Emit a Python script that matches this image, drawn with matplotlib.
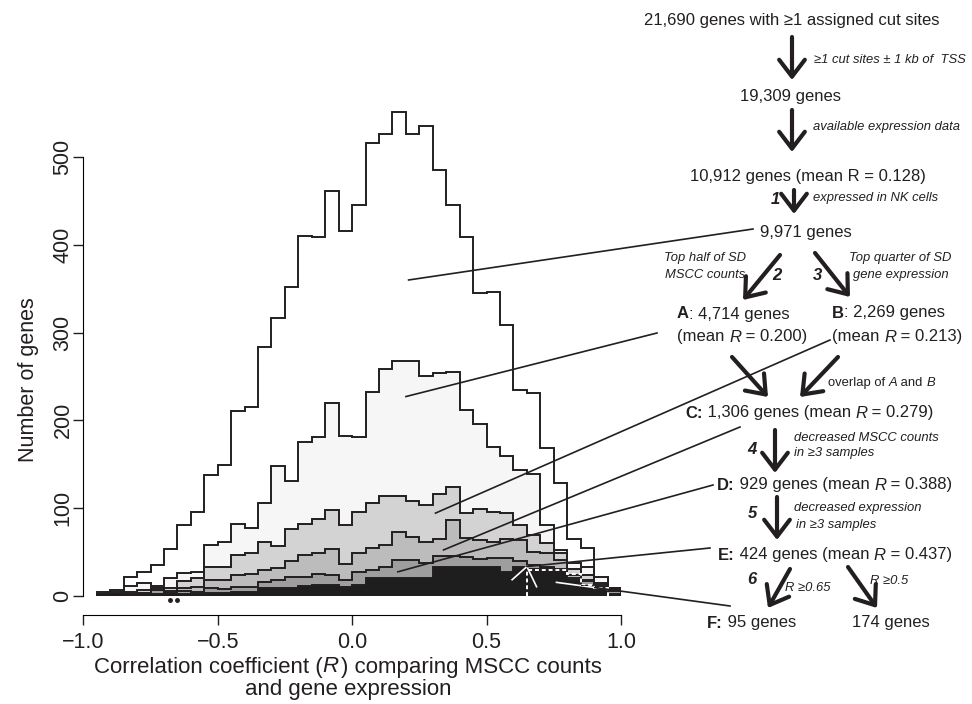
import numpy as np
import matplotlib
matplotlib.use("Agg")
import matplotlib.pyplot as plt

plt.rcParams["font.family"] = ["Liberation Sans", "DejaVu Sans"]

# bins of R, width 0.05, from -0.95 to 1.0
edges = np.round(np.linspace(-0.95, 1.0, 40), 2)

# number of genes per bin
genes_9971 = [4, 6, 21, 27, 35, 53, 80, 95, 137, 149, 211, 215, 283, 317, 352, 410, 409, 462, 416, 445,
              516, 527, 552, 527, 536, 485, 446, 409, 345, 346, 309, 235, 231, 168, 128, 64, 54, 20, 8]
genes_a = [2, 4, 11, 14, 11, 20, 26, 27, 58, 61, 82, 77, 106, 148, 131, 175, 181, 220, 182, 181,
           232, 258, 268, 267, 250, 254, 255, 212, 196, 170, 159, 143, 139, 81, 52, 37, 33, 21, 9]
genes_b = [1, 2, 4, 6, 4, 8, 16, 20, 32, 32, 46, 49, 61, 56, 76, 82, 87, 97, 80, 95,
           105, 113, 113, 108, 103, 116, 124, 94, 99, 95, 94, 80, 69, 60, 48, 30, 23, 14, 7]
genes_c = [1, 1, 2, 3, 8, 5, 9, 10, 18, 18, 23, 25, 29, 31, 39, 46, 48, 53, 36, 48,
           54, 58, 72, 67, 61, 64, 86, 66, 63, 61, 64, 63, 50, 48, 40, 23, 18, 12, 6]
genes_d = [1, 1, 1, 2, 6, 3, 5, 4, 8, 7, 10, 10, 15, 18, 21, 21, 25, 23, 18, 27,
           29, 33, 40, 40, 37, 45, 45, 44, 42, 43, 43, 39, 35, 33, 30, 20, 16, 10, 5]
genes_e = [2, 2, 1, 1, 2, 2, 2, 2, 3, 3, 4, 4, 8, 9, 9, 11, 12, 12, 10, 12,
           20, 20, 20, 20, 20, 33, 32, 32, 32, 32, 27, 33, 30, 30, 28, 18, 11, 6, 2]
# F: R >= 0.65 subset of E
edges_f = [0.65, 0.70, 0.75, 0.80, 0.85, 0.90, 0.95]
genes_f = [29, 29, 29, 24, 12, 8]

dots_x = [-0.676, -0.652]
dots_y = [-5, -5]

ink = "#231f20"

fig = plt.figure(figsize=(9.72, 7.04), dpi=100)
ax = fig.add_axes([83.3 / 972, 108.5 / 704, 537.7 / 972, 490.8 / 704])
ax.set_xlim(-1, 1)
ax.set_ylim(0, 560)

layers = [(genes_9971, "white"), (genes_a, "#f6f6f6"), (genes_b, "#d3d3d3"),
          (genes_c, "#bcbcbc"), (genes_d, "#9e9e9e"), (genes_e, "#1e1e1e")]
for vals, col in layers:
    black = ax.stairs(vals, edges, fill=True, facecolor=col, edgecolor=ink, lw=1.4)
ax.stairs(genes_f, edges_f, fill=True, facecolor="none", edgecolor="white",
          lw=1.4, linestyle=(0, (2, 1.5)))
ax.plot(dots_x, dots_y, "o", ms=2.5, color=ink, clip_on=False)

for s in ["top", "right"]:
    ax.spines[s].set_visible(False)
ax.spines["bottom"].set_position(("outward", 14))
ax.spines["bottom"].set_bounds(-1, 1)
ax.spines["left"].set_bounds(0, 500)
ax.patch.set_visible(False)
ax.set_xticks([-1.0, -0.5, 0.0, 0.5, 1.0])
ax.set_xticklabels(["\u22121.0", "\u22120.5", "0.0", "0.5", "1.0"])
ax.set_yticks([0, 100, 200, 300, 400, 500])
ax.tick_params(axis="both", length=7, width=1, color=ink, labelsize=15.5, labelcolor=ink)
ax.tick_params(axis="x", pad=5)
ax.tick_params(axis="y", pad=0)
for lab in ax.get_yticklabels():
    lab.set_rotation(90)
    lab.set_va("center")
ax.set_ylabel("Number of genes", fontsize=15.5, color=ink)
ax.yaxis.set_label_coords(-0.082, 0.44)

# overlay in pixel coordinates for the flow chart
ov = fig.add_axes([0, 0, 1, 1])
ov.set_xlim(0, 972)
ov.set_ylim(704, 0)
ov.axis("off")
renderer = fig.canvas.get_renderer()


def advance(txt, fs, w, st):
    # width of txt including side bearings, measured between two bars
    a = ov.text(0, 0, "|" + txt + "|", fontsize=fs, fontweight=w, fontstyle=st)
    b = ov.text(0, 0, "||", fontsize=fs, fontweight=w, fontstyle=st)
    wd = a.get_window_extent(renderer=renderer).width - b.get_window_extent(renderer=renderer).width
    a.remove()
    b.remove()
    return wd


def rich(x, y, parts, fs, ha="left"):
    # parts: (text, weight, style) drawn one after another on one line
    widths = []
    for k, (txt, w, st) in enumerate(parts):
        wd = advance(txt, fs, w, st)
        nxt = parts[k + 1][0] if k + 1 < len(parts) else " "
        if st == "italic" and not nxt.startswith(" "):
            wd += fs * 0.15  # italic correction before upright text
        widths.append(wd)
    pos = x - sum(widths) / 2 if ha == "center" else x
    for (txt, w, st), wd in zip(parts, widths):
        ov.text(pos, y, txt, fontsize=fs, fontweight=w, fontstyle=st,
                ha="left", va="center", color=ink)
        pos += wd


N, B, I = "normal", "bold", "italic"
rich(348, 667, [("Correlation coefficient (", N, N), ("R", N, I),
                (") comparing MSCC counts", N, N)], 16, "center")
rich(348, 690, [("and gene expression", N, N)], 16, "center")

big = 12
small = 9.4
plain = [
    ("21,690 genes with \u22651 assigned cut sites", 792, 21),
    ("19,309 genes", 790, 97),
    ("10,912 genes (mean R = 0.128)", 808, 177),
    ("9,971 genes", 806, 232),
    ("174 genes", 891, 623),
]
for txt, x, y in plain:
    ov.text(x, y, txt, fontsize=big, ha="center", va="center", color=ink)

rich(677, 314, [("A", B, N), (": 4,714 genes", N, N)], big)
rich(677, 337, [("(mean ", N, N), ("R", N, I), (" = 0.200)", N, N)], big)
rich(832, 313, [("B", B, N), (": 2,269 genes", N, N)], big)
rich(832, 337, [("(mean ", N, N), ("R", N, I), (" = 0.213)", N, N)], big)
rich(685, 413, [("C:", B, N), (" 1,306 genes (mean ", N, N), ("R", N, I), (" = 0.279)", N, N)], big)
rich(717, 485, [("D:", B, N), (" 929 genes (mean ", N, N), ("R", N, I), (" = 0.388)", N, N)], big)
rich(718, 555, [("E:", B, N), (" 424 genes (mean ", N, N), ("R", N, I), (" = 0.437)", N, N)], big)
rich(707, 623, [("F:", B, N), (" 95 genes", N, N)], big)
rich(828, 383, [("overlap of ", N, N), ("A", N, I), (" and ", N, N), ("B", N, I)], small)

notes = [
    ("\u22651 cut sites \u00b1 1 kb of  TSS", 814, 60, "left"),
    ("available expression data", 813, 127, "left"),
    ("expressed in NK cells", 813, 198, "left"),
    ("Top half of SD", 705, 258, "center"),
    ("MSCC counts", 705, 275, "center"),
    ("Top quarter of SD", 900, 258, "center"),
    ("gene expression", 901, 275, "center"),
    ("decreased MSCC counts", 794, 438, "left"),
    ("in \u22653 samples", 794, 453, "left"),
    ("decreased expression", 794, 508, "left"),
    ("in \u22653 samples", 796, 525, "left"),
    ("R \u22650.65", 785, 588, "left"),
    ("R \u22650.5", 870, 581, "left"),
]
for txt, x, y, ha in notes:
    ov.text(x, y, txt, fontsize=small, fontstyle="italic", ha=ha, va="center", color=ink)

steps = [("1", 775, 199), ("2", 777, 275), ("3", 817, 275), ("4", 752, 450),
         ("5", 752, 513), ("6", 752, 580)]
for txt, x, y in steps:
    ov.text(x, y, txt, fontsize=big, fontweight="bold", fontstyle="italic",
            ha="center", va="center", color=ink)

arrows = [((792, 37), (792, 80)), ((792, 110), (792, 152)), ((794, 190), (794, 214)),
          ((780, 255), (743, 300)), ((815, 253), (850, 297)), ((732, 357), (768, 397)),
          ((838, 357), (800, 397)), ((775, 430), (775, 473)), ((777, 497), (777, 540)),
          ((790, 569), (768, 608)), ((848, 567), (877, 608))]
for start, end in arrows:
    ov.annotate("", xy=end, xytext=start,
                arrowprops=dict(arrowstyle="->,head_length=0.55,head_width=0.42",
                                lw=3, color=ink, mutation_scale=22,
                                shrinkA=0, shrinkB=0))

# pointer lines: start in pixels, end in data coordinates of the histogram
pointers = [((753, 229), (0.21, 360)), ((657, 333), (0.20, 227)), ((830, 340), (0.31, 94)),
            ((740, 427), (0.34, 52)), ((713, 485), (0.17, 27)), ((710, 548), (0.65, 33)),
            ((730, 606), (0.76, 15))]
to_ov = ov.transData.inverted()
for start, end in pointers:
    ex, ey = to_ov.transform(ax.transData.transform(end))
    ov.plot([start[0], ex], [start[1], ey], color=ink, lw=1.2)
    wl, = ov.plot([start[0], ex], [start[1], ey], color="white", lw=1.2)
    wl.set_clip_path(black)

# white tips of the E pointer inside the black histogram
e_tip = (0.65, 33)
for branch in [(0.595, 18), (0.686, 10)]:
    ax.plot([e_tip[0], branch[0]], [e_tip[1], branch[1]], color="white", lw=1.2)

fig.savefig("out.png", dpi=100)
